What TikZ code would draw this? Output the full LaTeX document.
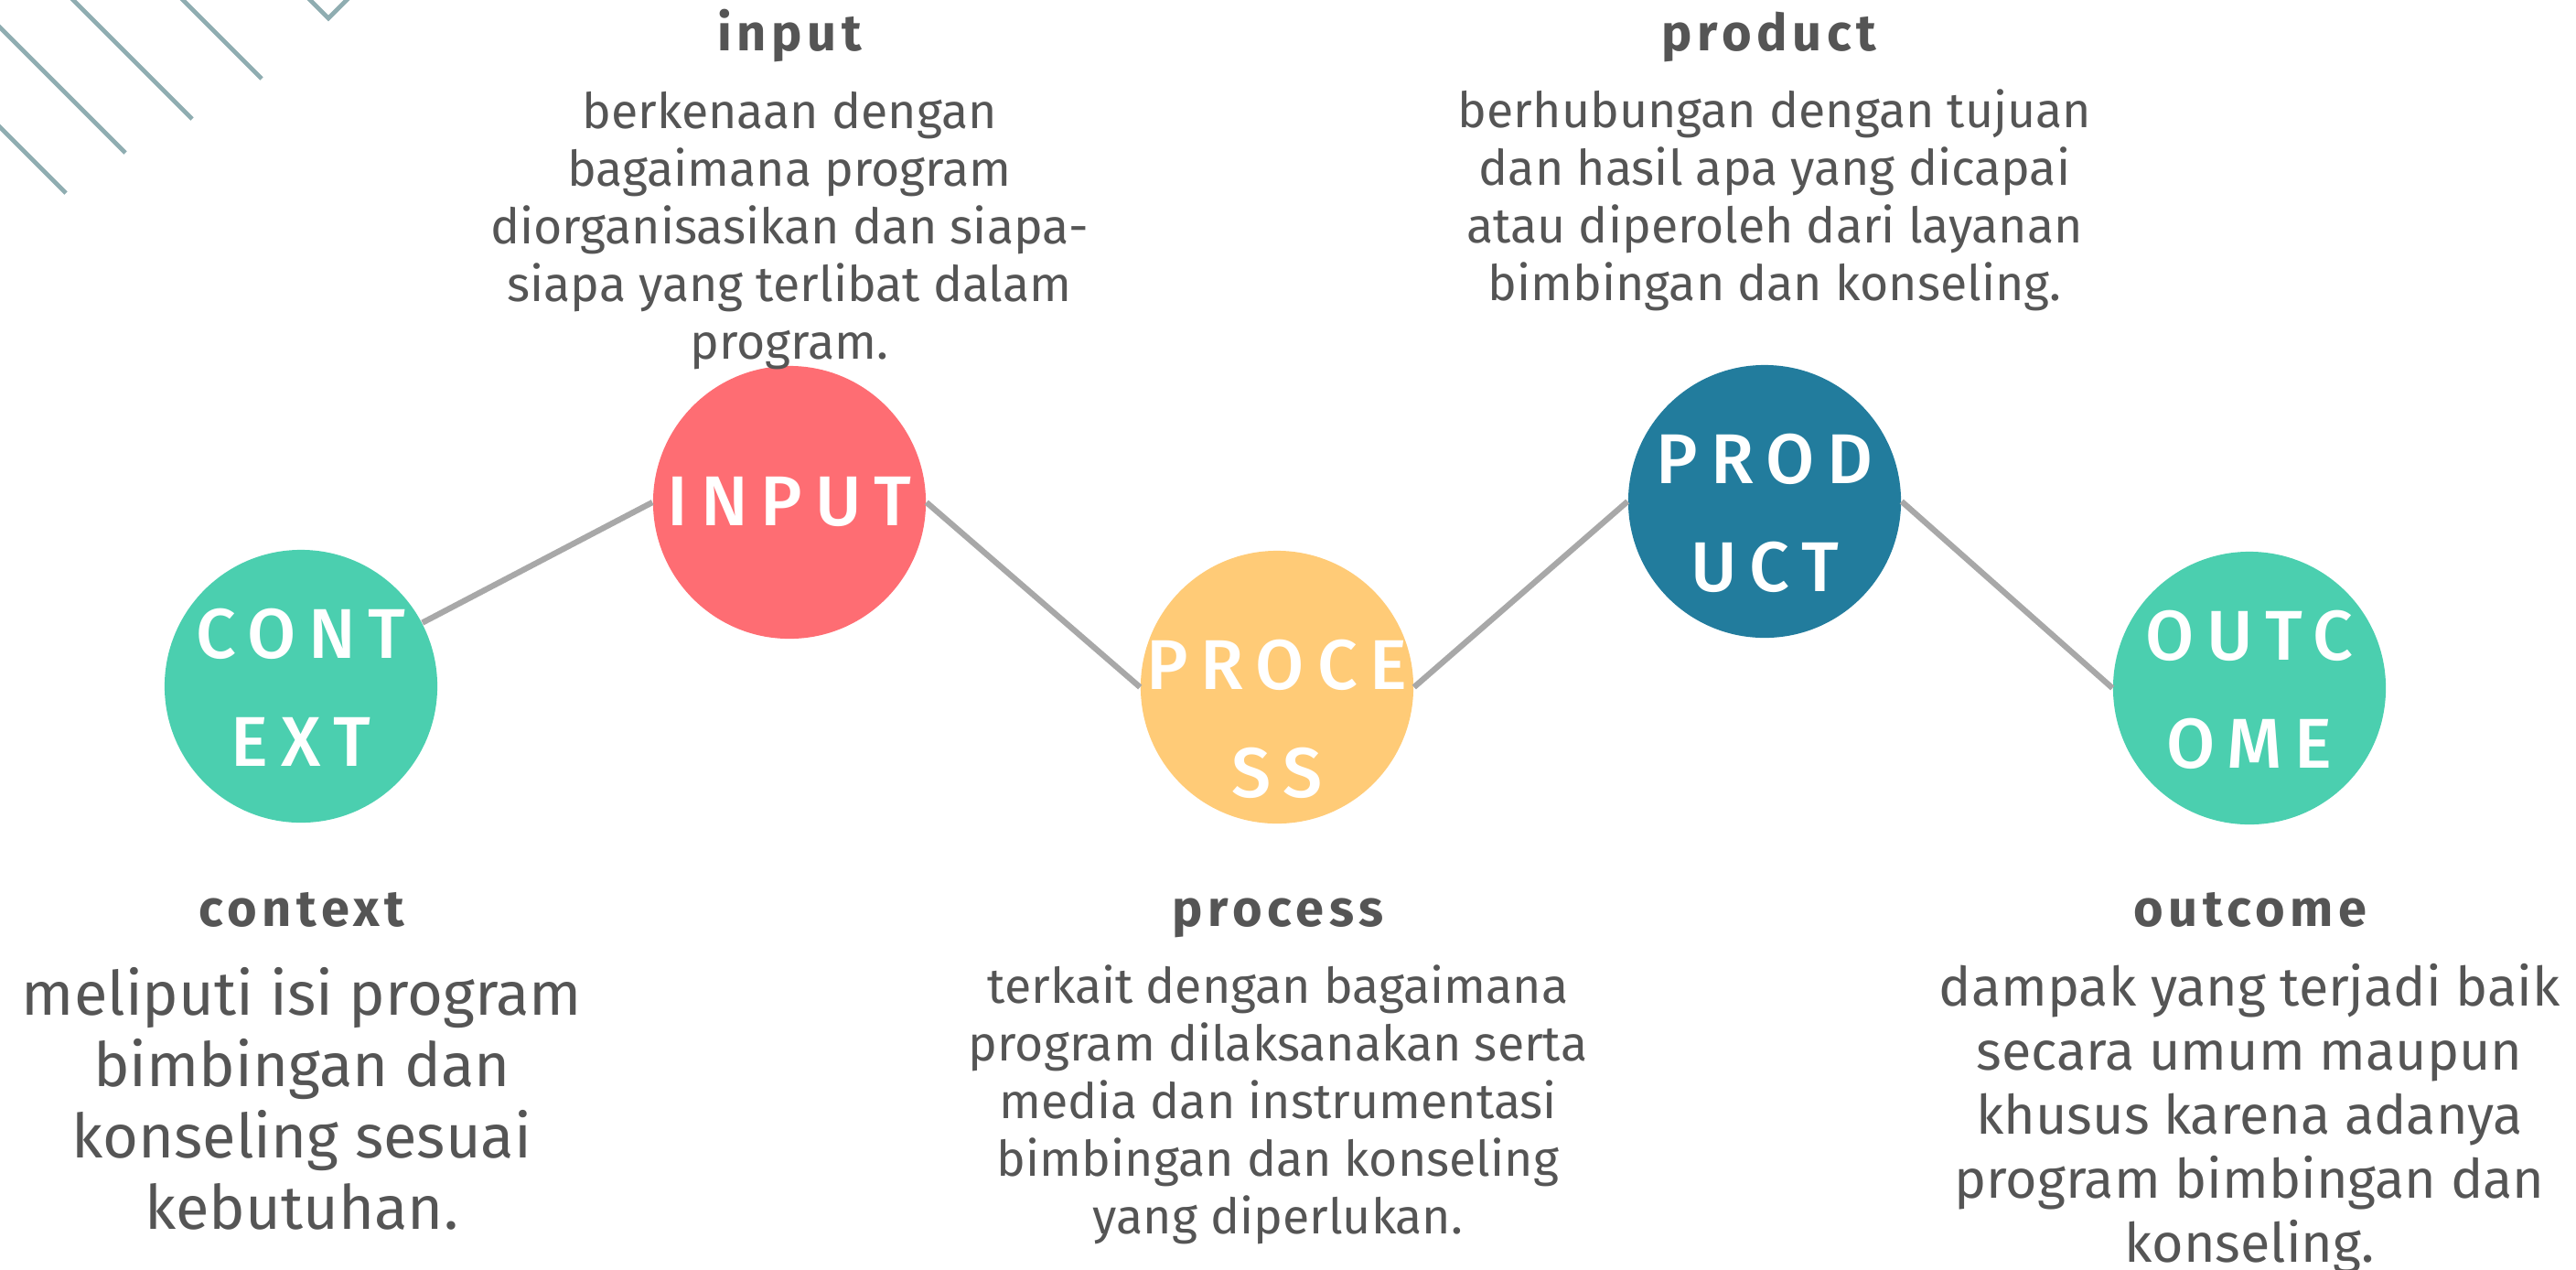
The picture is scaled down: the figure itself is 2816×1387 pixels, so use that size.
\documentclass[tikz,border=0pt]{standalone}
\usepackage{fontspec}
\setmainfont{Fira Sans}
\newfontfamily\tagfont{Fira Sans Medium}[LetterSpace=18]
\newfontfamily\headfont{Fira Sans}[LetterSpace=10]
\definecolor{ink}{HTML}{555555}
\definecolor{mint}{HTML}{4BCFAF}
\definecolor{coral}{HTML}{FE6D73}
\definecolor{sand}{HTML}{FFCB77}
\definecolor{ocean}{HTML}{227C9D}
\definecolor{wire}{HTML}{A8A8A8}
\definecolor{stripe}{HTML}{8FADB1}
\tikzset{
  stage/.style={circle, minimum size=2.98cm, inner sep=0pt},
  tag/.style={text=white, align=center, inner sep=0pt, font=\tagfont\fontsize{21.9pt}{33.6pt}\selectfont},
  head/.style={text=ink, anchor=base, inner sep=0pt, font=\headfont\bfseries\fontsize{15.9pt}{18pt}\selectfont},
  body/.style={text=ink, align=center, inner sep=0pt, font=\fontsize{15.25pt}{17.9pt}\selectfont},
  link/.style={wire, line width=1.8pt},
  deco/.style={stripe, line width=1.4pt}
}
\begin{document}
\begin{tikzpicture}[x=0.01cm, y=-0.01cm]
            \useasboundingbox (0,0) rectangle (2816,1387);
            \clip (0,0) rectangle (2816,1387);
            % corner stripes
            \draw[deco] (-20,119) -- (72,211);
            \draw[deco] (-30,0) -- (137,167);
            \draw[deco] (70,-10) -- (210,130);
            \draw[deco] (190,-10) -- (286,86);
            \draw[deco, line join=miter] (329,-10) -- (359,20) -- (389,-10);
            % stages
            \node[stage, fill=mint] (context) at (329,750) {};
            \node[stage, fill=coral] (input) at (863,549) {};
            \node[stage, fill=sand] (process) at (1396,751) {};
            \node[stage, fill=ocean] (product) at (1929,548) {};
            \node[stage, fill=mint] (outcome) at (2459,752) {};
            \draw[link] (context) -- (input.west);
            \draw[link] (input.east) -- (process.west);
            \draw[link] (process.east) -- (product.west);
            \draw[link] (product.east) -- (outcome.west);
            \node[tag] (contexttag) at (329,751) {CONT\\EXT};
            \node[tag] (inputtag) at (863,548) {INPUT};
            \node[tag] (processtag) at (1396,786) {PROCE\\SS};
            \node[tag] (producttag) at (1929,561) {PROD\\UCT};
            \node[tag] (outcometag) at (2459,754) {OUTC\\OME};
            % headings and notes
            \node[head] (inputhead) at (863,55) {input};
            \node[head] (producthead) at (1934,55) {product};
            \node[head] (contexthead) at (330,1012) {context};
            \node[head] (processhead) at (1397,1012) {process};
            \node[head] (outcomehead) at (2460,1012) {outcome};
            \node[body] (inputnote) at (863,252) {berkenaan dengan\\bagaimana program\\diorganisasikan dan siapa-\\siapa yang terlibat dalam\\program.};
            \node[body] (productnote) at (1940,219) {berhubungan dengan tujuan\\dan hasil apa yang dicapai\\atau diperoleh dari layanan\\bimbingan dan konseling.};
            \node[body, font=\fontsize{19pt}{22.2pt}\selectfont] (contextnote) at (330,1201) {meliputi isi program\\bimbingan dan\\konseling sesuai\\kebutuhan.};
            \node[body] (processnote) at (1397,1207) {terkait dengan bagaimana\\program dilaksanakan serta\\media dan instrumentasi\\bimbingan dan konseling\\yang diperlukan.};
            \node[body, font=\fontsize{16.85pt}{19.9pt}\selectfont] (outcomenote) at (2459,1223) {dampak yang terjadi baik\\secara umum maupun\\khusus karena adanya\\program bimbingan dan\\konseling.};
\end{tikzpicture}
\end{document}
